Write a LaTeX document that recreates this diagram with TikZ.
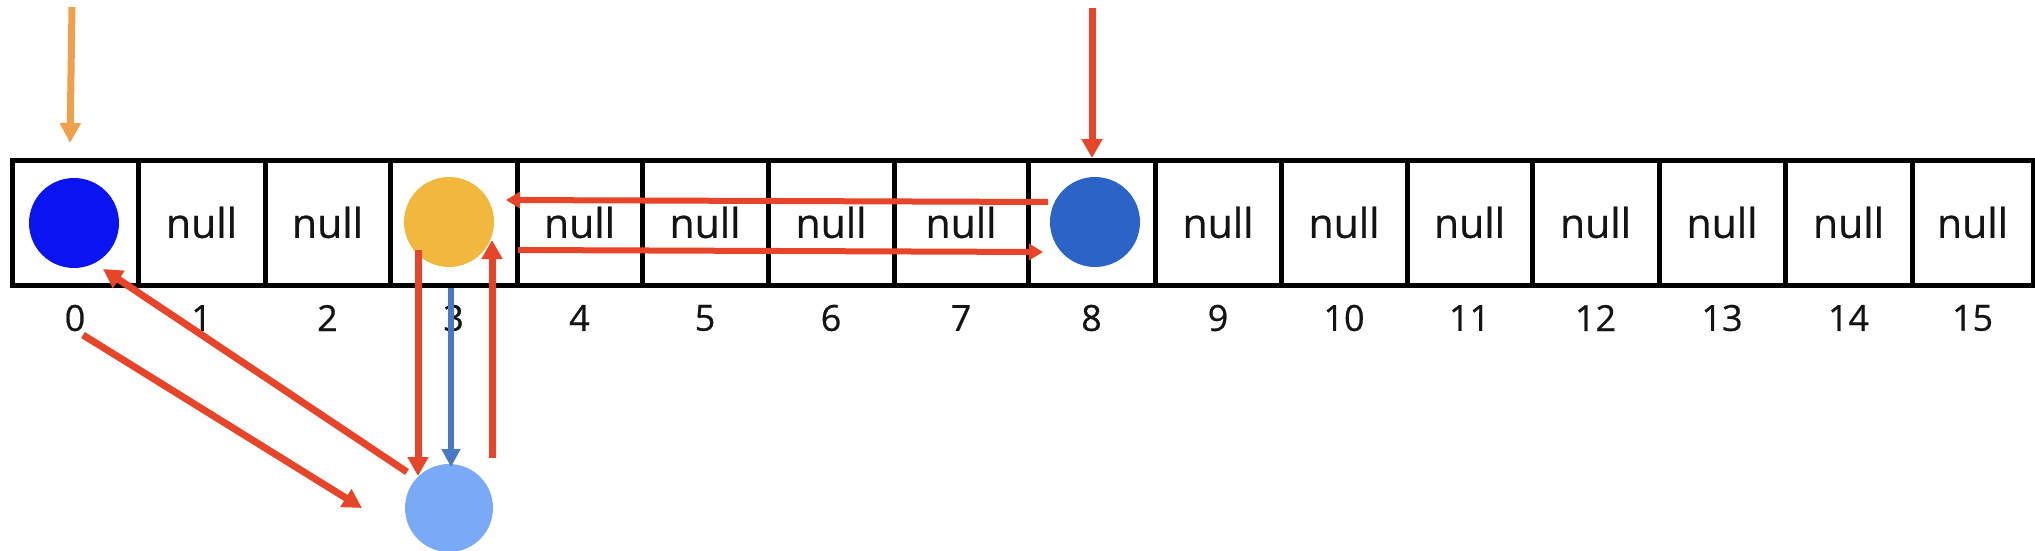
\documentclass[tikz,border=0pt]{standalone}
\usepackage{fontspec}
\setmainfont{Open Sans}
\newfontfamily\cellfont{Open Sans}[FakeBold=0.6]
\usetikzlibrary{arrows.meta}
\definecolor{arrred}{HTML}{E8442A}
\definecolor{arrorange}{HTML}{F0A04B}
\definecolor{arrblue}{HTML}{4A78C4}
\definecolor{dotblue}{HTML}{0A14F0}
\definecolor{dotyellow}{HTML}{F2B83E}
\definecolor{dotmid}{HTML}{2B63C6}
\definecolor{dotlight}{HTML}{7AAAF5}
\tikzset{
  cellbox/.style={draw=black, line width=5pt, rectangle, inner sep=0pt, minimum height=125pt},
  nulltext/.style={font=\cellfont\fontsize{41}{41}\selectfont, text=black!92, inner sep=0pt},
  idxtext/.style={font=\cellfont\fontsize{36}{36}\selectfont, text=black!92, inner sep=0pt},
  dot/.style={circle, inner sep=0pt, minimum size=90pt, draw=none},
  redarrow/.style={draw=arrred, line width=7pt, -{Triangle[length=19pt,width=20pt]}},
  redsmall/.style={draw=arrred, line width=6pt, -{Triangle[length=14pt,width=16pt]}},
  bluearrow/.style={draw=arrblue, line width=6.5pt, -{Triangle[length=18pt,width=18pt]}},
  orangearrow/.style={draw=arrorange, line width=7pt, -{Triangle[length=20pt,width=20pt]}},
}
\begin{document}
\begin{tikzpicture}[x=1pt,y=-1pt]
\useasboundingbox (0,0) rectangle (2035,551);
% cells
\foreach \a/\b [count=\i from 0] in {12/138,138/265,265/390,390/517,517/642,642/768,768/894,894/1028,1028/1155,1155/1281,1281/1407,1407/1532,1532/1659,1659/1785,1785/1912,1912/2033}{
  \node[cellbox, minimum width={\b-\a}] (cell\i) at ({(\a+\b)/2},222.5) {};
  \node[idxtext] (idx\i) at ({(\a+\b)/2},318) {\i};
}
\foreach \i in {1,2,4,5,6,7,9,10,11,12,13,14,15}{
  \node[nulltext] (null\i) at (cell\i.center) {null};
}
% dots
\node[dot, fill=dotblue] (c0) at (74,223) {};
\node[dot, fill=dotyellow] (c3) at (449,222) {};
\node[dot, fill=dotmid] (c8) at (1095,222) {};
\node[dot, fill=dotlight, minimum size=88pt] (cn) at (449,508) {};
% arrow end points
\coordinate (o1) at (72,7);    \coordinate (o2) at (70,143);
\coordinate (t1) at (1092,8);  \coordinate (t2) at (1092,158);
\coordinate (h1) at (1048,202); \coordinate (h2) at (506,200);
\coordinate (h3) at (518,250); \coordinate (h4) at (1043,252);
\coordinate (d1) at (418,250); \coordinate (d2) at (418,476);
\coordinate (b1) at (451,288); \coordinate (b2) at (451,467);
\coordinate (u1) at (492,458); \coordinate (u2) at (492,240);
\coordinate (g1) at (407,472); \coordinate (g2) at (103,269);
\coordinate (g3) at (83,335);  \coordinate (g4) at (362,508);
% arrows
\draw[orangearrow] (o1) -- (o2);
\draw[redarrow] (t1) -- (t2);
\draw[redsmall] (h1) -- (h2);
\draw[redsmall] (h3) -- (h4);
\draw[redarrow] (d1) -- (d2);
\draw[bluearrow] (b1) -- (b2);
\draw[redarrow] (u1) -- (u2);
\draw[redarrow] (g1) -- (g2);
\draw[redarrow] (g3) -- (g4);
\end{tikzpicture}
\end{document}
